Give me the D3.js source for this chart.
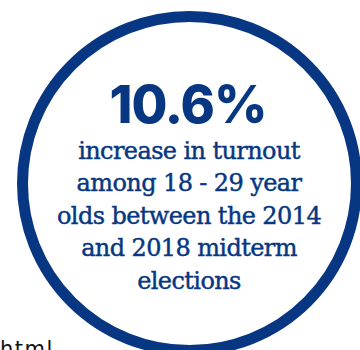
<!DOCTYPE html>
<html>
<head>
<meta charset="utf-8">
<script src="https://cdn.jsdelivr.net/npm/d3@7"></script>
<style>
  html, body { margin: 0; padding: 0; background: #fff; overflow: hidden; }
  svg { display: block; }
</style>
</head>
<body>
<script>
const headline = ["10.6%"];
const bodyLines = [
  "increase in turnout",
  "among 18 - 29 year",
  "olds between the 2014",
  "and 2018 midterm",
  "elections"
];
const footerText = ["html"];

const W = 360, H = 350;
const navy = "#073782";
const svg = d3.select("body").append("svg").attr("width", W).attr("height", H);

const cx = 189.5, cy = 183.5, r = 167;
svg.append("circle").attr("cx", cx).attr("cy", cy).attr("r", r)
  .attr("fill", "none").attr("stroke", navy).attr("stroke-width", 11);

svg.selectAll("text.head").data(headline).join("text")
  .attr("class", "head")
  .attr("x", 188).attr("y", 123)
  .attr("text-anchor", "middle")
  .attr("fill", navy)
  .style("font-family", "Inter, 'Open Sans', sans-serif")
  .style("font-weight", 800)
  .style("font-size", "52px")
  .style("letter-spacing", "-1px")
  .text(d => d);

const y = d3.scaleLinear().domain([0, bodyLines.length - 1]).range([158.5, 288.5]);
svg.selectAll("text.line").data(bodyLines).join("text")
  .attr("class", "line")
  .attr("x", 189).attr("y", (d, i) => y(i))
  .attr("text-anchor", "middle")
  .attr("fill", navy)
  .attr("stroke", navy)
  .attr("stroke-width", 0.45)
  .style("font-family", "'DejaVu Serif', serif")
  .style("font-size", "24px")
  .style("letter-spacing", "-0.6px")
  .text(d => d);

svg.selectAll("text.foot").data(footerText).join("text")
  .attr("class", "foot")
  .attr("x", 0).attr("y", 356)
  .attr("fill", "#111")
  .style("font-family", "'DejaVu Sans', sans-serif")
  .style("font-size", "21px")
  .style("letter-spacing", "1.5px")
  .text(d => d);
</script>
</body>
</html>
